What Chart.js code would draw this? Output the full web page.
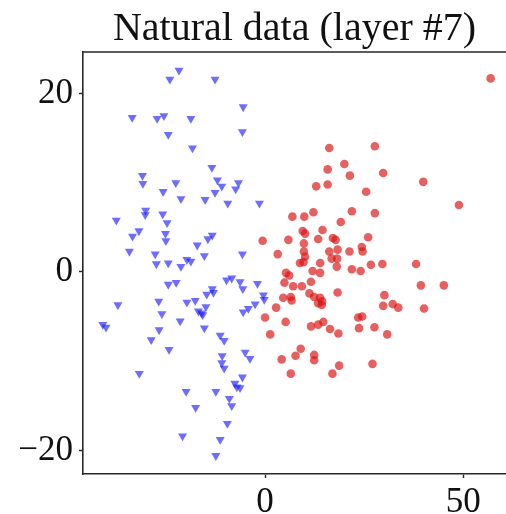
<!DOCTYPE html>
<html>
<head>
<meta charset="utf-8">
<script src="https://cdn.jsdelivr.net/npm/chart.js@4/dist/chart.umd.min.js"></script>
<style>
  html, body { margin: 0; padding: 0; background: #fff; overflow: hidden; }
  #wrap { width: 506px; height: 514px; position: relative; }
</style>
</head>
<body>
<div id="wrap"><canvas id="c" width="506" height="514"></canvas></div>
<script>
const titleText = "Natural data (layer #7)";
const xTicks = [0, 50];
const yTicks = [-20, 0, 20];

// Blue class (downward triangles)
const blueX = [-21.7,-24.0,-12.6,-5.5,-33.5,-27.2,-25.5,-18.7,-24.4,-5.7,-18.3,-13.4,-30.9,-30.8,-22.5,-25.7,-12.0,-10.9,-12.6,-6.7,-7.4,-21.2,-15.1,-9.4,-1.4,-30.1,-30.2,-25.8,-24.7,-37.5,-31.8,-33.4,-25.1,-25.0,-13.3,-14.4,-17.1,-34.2,-27.7,-15.3,-5.7,-27.4,-24.4,-19.7,-18.7,-21.2,
  -24.4,-22.4,-9.7,-8.4,-6.3,-5.6,-1.9,-13.3,-13.0,-14.7,-0.4,-0.2,-37.1,-26.8,-19.7,-17.6,-14.9,-16.8,-15.7,-2.5,-4.2,-5.5,-26.0,-40.9,-40.1,-21.4,-26.7,-28.7,-15.3,-11.3,-10.3,-24.2,-10.8,-10.9,-10.3,-5.0,-3.8,-31.7,-5.7,-7.6,-7.1,-6.3,-19.9,-12.4,-9.0,-8.4,-17.5,-9.5,-20.8,-11.3,-12.4,-16.0];
const blueY = [22.6,21.6,21.6,18.5,17.3,17.2,17.5,17.2,15.4,15.7,13.9,11.7,10.8,9.9,10.0,9.0,10.3,9.6,8.9,10.0,9.3,8.2,8.1,7.7,7.7,6.9,6.4,6.5,5.5,5.8,4.6,4.0,4.3,3.5,4.1,3.7,3.0,2.3,2.0,1.8,2.0,0.9,1.0,1.4,1.2,0.6,
  -1.4,-1.2,-0.9,-0.7,-1.1,-1.9,-1.3,-1.9,-2.3,-2.5,-2.6,-3.1,-3.7,-3.3,-3.4,-3.2,-3.9,-4.4,-4.8,-3.6,-4.1,-4.5,-4.7,-5.9,-6.2,-5.5,-6.5,-7.6,-6.3,-7.1,-7.7,-8.7,-9.4,-10.2,-10.8,-9.0,-9.7,-11.4,-11.8,-12.5,-12.9,-13.0,-13.4,-13.4,-14.2,-15.0,-15.2,-17.0,-18.4,-18.8,-20.6,-4.6];

// Red class (circles)
const redX = [56.9,16.2,27.7,20.0,15.8,21.4,29.8,39.9,12.9,15.8,25.5,48.9,6.9,9.9,12.2,21.9,27.7,19.1,9.5,10.1,14.5,-0.6,5.9,13.4,17.1,17.8,26.0,9.8,3.2,9.8,10.1,16.2,18.3,21.3,24.4,24.6,16.8,18.2,8.8,13.9,26.7,29.6,38.1,18.1,
  12.0,13.9,21.9,24.1,5.3,6.1,4.9,11.6,7.1,9.3,4.6,6.5,6.7,11.2,12.4,13.9,13.4,14.3,18.3,39.3,45.1,30.1,29.8,32.2,33.6,40.1,2.8,0.0,5.2,11.6,13.4,14.7,16.4,18.5,23.5,24.5,23.7,27.6,30.8,1.3,9.0,7.7,4.2,12.4,12.4,18.7,27.1,6.5,17.0,9.7,14.4];
const redY = [21.7,13.9,14.1,12.1,11.5,10.8,11.1,10.1,9.6,9.8,9.0,7.5,6.2,6.2,6.7,6.8,6.6,5.6,4.6,4.3,4.7,3.5,3.6,3.7,3.8,3.6,3.9,3.2,2.0,2.3,1.7,2.3,2.5,2.3,2.8,2.3,1.5,1.5,1.0,1.0,0.8,0.9,0.9,0.6,
  0.1,-0.1,0.3,0.1,-0.1,-0.4,-1.2,-1.1,-1.6,-1.6,-2.9,-2.8,-3.2,-2.4,-2.8,-2.9,-3.5,-3.7,-2.3,-1.5,-1.5,-2.6,-3.8,-3.6,-4.0,-4.1,-4.0,-5.1,-5.6,-6.1,-5.9,-5.6,-6.4,-6.9,-5.1,-5.0,-6.3,-6.2,-7.0,-7.0,-8.6,-9.4,-9.8,-9.3,-9.9,-10.5,-10.3,-11.4,-11.4,1.1,-3.3];

const toPts = (xs, ys) => xs.map((x, i) => ({ x: x, y: ys[i] }));

const serif = "'Liberation Serif', 'DejaVu Serif', serif";
const spineColor = '#262626';

const topSpine = {
  id: 'topSpine',
  afterDraw(chart) {
    const { ctx, chartArea } = chart;
    ctx.save();
    ctx.strokeStyle = spineColor;
    ctx.lineWidth = 1.6;
    ctx.beginPath();
    ctx.moveTo(chartArea.left - 0.8, chartArea.top);
    ctx.lineTo(chartArea.right, chartArea.top);
    ctx.stroke();
    ctx.restore();
  }
};

new Chart(document.getElementById('c'), {
  type: 'scatter',
  data: {
    datasets: [
      {
        label: 'blue',
        data: toPts(blueX, blueY),
        pointStyle: 'triangle',
        rotation: 180,
        pointRadius: 5.2,
        borderWidth: 0,
        backgroundColor: 'rgba(20,20,255,0.62)',
        borderColor: 'rgba(0,0,0,0)'
      },
      {
        label: 'red',
        data: toPts(redX, redY),
        pointStyle: 'circle',
        pointRadius: 4.3,
        borderWidth: 0,
        backgroundColor: 'rgba(218,20,20,0.68)',
        borderColor: 'rgba(0,0,0,0)'
      }
    ]
  },
  options: {
    responsive: false,
    animation: false,
    events: [],
    layout: { padding: 0, autoPadding: false },
    plugins: {
      legend: { display: false },
      tooltip: { enabled: false },
      title: {
        display: true,
        text: titleText,
        fullSize: false,
        color: '#111',
        font: { family: serif, size: 40, weight: 'normal', lineHeight: 1.0 },
        padding: { top: 9.5, bottom: 2.5 }
      }
    },
    scales: {
      x: {
        type: 'linear',
        min: -45.9,
        max: 60.77,
        afterBuildTicks: (s) => { s.ticks = xTicks.map(v => ({ value: v })); },
        afterFit: (s) => { s.height = 40; s.paddingLeft = 0; s.paddingRight = 0; },
        grid: { drawOnChartArea: false, drawTicks: true, tickLength: 4, tickColor: spineColor, tickWidth: 1.4 },
        border: { display: true, color: spineColor, width: 1.6 },
        ticks: {
          color: '#111',
          font: { family: serif, size: 35 },
          padding: 4,
          maxRotation: 0,
          callback: (v) => (v < 0 ? '\u2212' + Math.abs(v) : String(v))
        }
      },
      y: {
        type: 'linear',
        min: -22.65,
        max: 24.66,
        afterBuildTicks: (s) => { s.ticks = yTicks.map(v => ({ value: v })); },
        afterFit: (s) => { s.width = 83; s.paddingTop = 0; s.paddingBottom = 0; },
        grid: { drawOnChartArea: false, drawTicks: true, tickLength: 4, tickColor: spineColor, tickWidth: 1.4 },
        border: { display: true, color: spineColor, width: 1.6 },
        ticks: {
          color: '#111',
          font: { family: serif, size: 35 },
          padding: 6,
          callback: (v) => (v < 0 ? '\u2212' + Math.abs(v) : String(v))
        }
      }
    }
  },
  plugins: [topSpine]
});
</script>
</body>
</html>
